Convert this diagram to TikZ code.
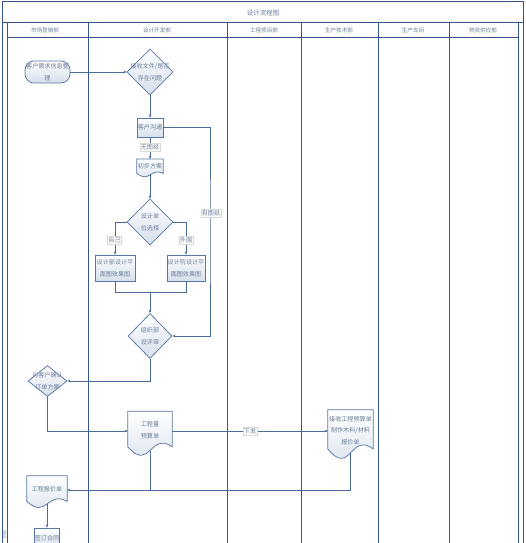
\documentclass[tikz,border=0pt]{standalone}
\usepackage{fontspec}
\newfontfamily\cjk{Noto Sans CJK SC}
\usetikzlibrary{shapes.geometric,arrows.meta,calc}
\definecolor{lane}{HTML}{34558A}
\definecolor{flowc}{HTML}{4A6C99}
\definecolor{shapeb}{HTML}{5878A3}
\definecolor{fillb}{HTML}{D6DFEC}
\definecolor{txt}{HTML}{6F7F9C}
\newcommand\docshape[6]{%
  \node[docn,minimum width=#4pt,minimum height=#5pt] (#1) at (#2,#3) {};
  \path[shp] (#1.north west) -- (#1.north east) -- ([yshift={0.1*#5}]#1.south east)
    .. controls ([yshift={0.1*#5+0.4*#5}]#1.south) and ([yshift={0.1*#5-0.65*#5}]#1.south) .. ([yshift={0.1*#5}]#1.south west) -- cycle;
  \node[ntext] (#1t) at ([yshift=1pt]#1) {#6};
}
\begin{document}
\begin{tikzpicture}[x=1pt,y=-1pt,
  lanel/.style={draw=lane,line width=1pt},
  flow/.style={draw=flowc,line width=0.75pt},
  arr/.style={flow,-{Stealth[length=3.2pt,width=2.8pt]}},
  shp/.style={draw=shapeb,line width=0.75pt,top color=white,bottom color=fillb},
  ntext/.style={font=\cjk\fontsize{6.1}{11.5}\selectfont,text=txt,align=center,inner sep=0pt},
  boxn/.style={shp,ntext,rectangle,inner sep=0pt},
  dia/.style={shp,diamond,inner sep=0pt},
  docn/.style={rectangle,inner sep=0pt,draw=none},
  lbl/.style={ntext,fill=white,draw=black!15,line width=0.3pt,inner sep=1pt},
  hdr/.style={font=\cjk\fontsize{5.6}{6.5}\selectfont,text=txt},
]
\useasboundingbox (0,0) rectangle (526,543);
\clip (0,0) rectangle (526,543);
\fill[white] (0,0) rectangle (526,543);
% frame and lanes
\draw[lanel] (2,2) rectangle (523,560);
\draw[lanel] (2,23) -- (523,23);
\draw[lanel] (7,38) -- (518,38);
\foreach \x in {7,88,227,301,378,449,518} \draw[lanel] (\x,23) -- (\x,560);
\node[font=\cjk\fontsize{6.5}{7.5}\selectfont,text=txt] (title) at (263,13) {设计流程图};
\node[hdr] (h1) at (45,30.5) {市场营销部};
\node[hdr] (h2) at (157,30.5) {设计开发部};
\node[hdr] (h3) at (264,30.5) {工程项目部};
\node[hdr] (h4) at (339,30.5) {生产技术部};
\node[hdr] (h5) at (413,30.5) {生产车间};
\node[hdr] (h6) at (483,30.5) {物资供应部};
\node[hdr,rotate=90,font=\cjk\fontsize{4}{5}\selectfont] (ph) at (4.5,534) {阶段};
% nodes
\node[boxn,rounded corners=9pt,minimum width=45pt,minimum height=22pt] (kx) at (47.5,72) {客户需求信息整\\理};
\node[dia,minimum width=46pt,minimum height=46pt,label={[ntext]center:{接收文件/是否\\存在问题}}] (d1) at (150,72) {};
\node[boxn,minimum width=26pt,minimum height=19pt] (ks) at (150,127.5) {客户沟通};
\docshape{cb}{150}{167}{26}{15.5}{初步方案}
\node[dia,minimum width=46pt,minimum height=46pt,label={[ntext]center:{设计单\\位选择}}] (d2) at (150,222) {};
\node[boxn,minimum width=40pt,minimum height=26pt] (b1) at (115,268) {设计部设计平\\面图效果图};
\node[boxn,minimum width=38pt,minimum height=26pt] (b2) at (186,268) {设计院设计平\\面图效果图};
\node[dia,minimum width=44pt,minimum height=45pt,label={[ntext]center:{组织部\\设评审}}] (d3) at (150,336) {};
\node[dia,minimum width=39pt,minimum height=31pt,label={[ntext]center:{与客户确认\\订单方案}}] (d4) at (47.5,381) {};
\docshape{gcl}{150}{431}{44}{39}{工程量\\预算单}
\docshape{js}{350.5}{431.5}{45}{43}{接收工程预算单\\制作木料/材料\\报价单}
\docshape{bj}{47}{490}{40}{28}{工程报价单}
\node[boxn,minimum width=25pt,minimum height=20pt] (ht) at (47,538) {签订合同};
% connectors
\draw[arr] (kx.east) -- (d1.west);
\draw[arr] (d1.south) -- (ks.north);
\draw[arr] (ks.south) -- (cb.north);
\draw[arr] (cb.south) -- (d2.north);
\draw[arr] (d2.west) -| (b1.north);
\draw[arr] (d2.east) -| (b2.north);
\coordinate (m1) at (150,292);
\draw[flow] (b1.south) |- (m1);
\draw[flow] (b2.south) |- (m1);
\draw[arr] (m1) -- (d3.north);
\coordinate (lp) at (210,230);
\draw[arr] (ks.east) -| (lp) |- (d3.east);
\draw[arr] (d3.south) |- (d4.east);
\draw[arr] (d4.south) |- (gcl.west);
\draw[arr] (gcl.east) -- (gcl.east -| js.west);
\draw[arr] (js.south) |- (bj.east);
\draw[flow] (gcl.south) -- (gcl.south |- bj.east);
\draw[arr] (bj.south) -- (ht.north);
% labels
\node[lbl] (l1) at (150,147) {无图纸};
\node[lbl] (l2) at (114.5,240) {自己};
\node[lbl] (l3) at (186,240) {外围};
\node[lbl] (l4) at (211,213) {有图纸};
\node[lbl] (l5) at (250,431) {下发};
\end{tikzpicture}
\end{document}
